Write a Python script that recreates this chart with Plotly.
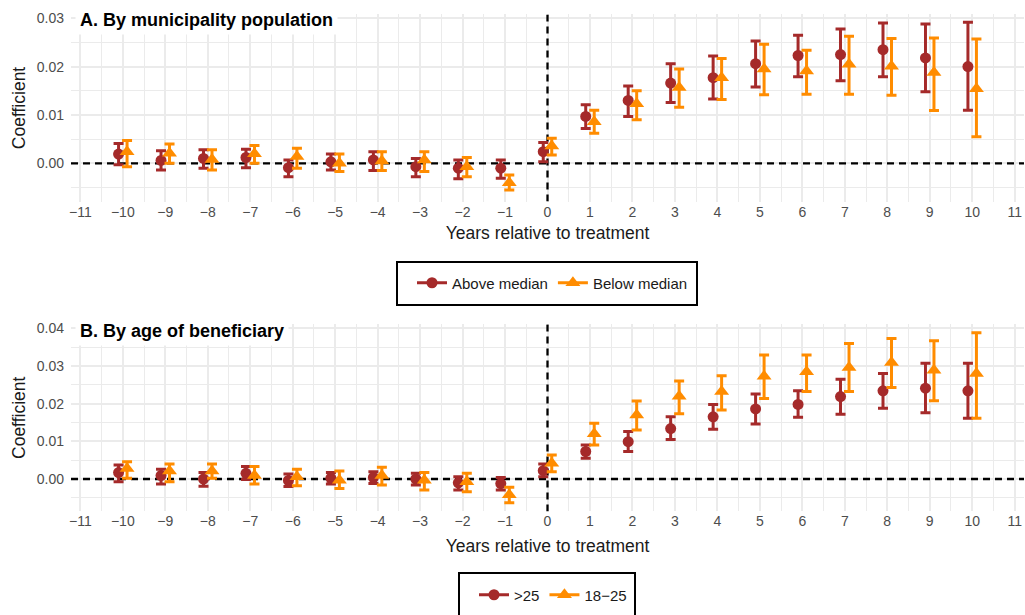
import plotly.graph_objects as go

# ---------------- data ----------------
years = list(range(-10, 11))

# Panel A: by municipality population
a_above_est = [0.0019, 0.0006, 0.0010, 0.0012, -0.0009, 0.0003, 0.0007, -0.0007, -0.0010, -0.0010,
               0.0024, 0.0097, 0.0130, 0.0166, 0.0177, 0.0206, 0.0223, 0.0225, 0.0235, 0.0218, 0.0200]
a_above_lo = [-0.0003, -0.0014, -0.0010, -0.0009, -0.0028, -0.0014, -0.0015, -0.0028, -0.0032, -0.0031,
              0.0003, 0.0072, 0.0097, 0.0126, 0.0133, 0.0158, 0.0179, 0.0171, 0.0179, 0.0148, 0.0110]
a_above_hi = [0.0041, 0.0026, 0.0028, 0.0029, 0.0007, 0.0019, 0.0024, 0.0010, 0.0007, 0.0007,
              0.0043, 0.0121, 0.0160, 0.0206, 0.0222, 0.0253, 0.0265, 0.0278, 0.0290, 0.0288, 0.0292]

a_below_est = [0.0024, 0.0021, 0.0008, 0.0020, 0.0014, 0.0000, 0.0005, 0.0007, -0.0007, -0.0040,
               0.0036, 0.0086, 0.0123, 0.0157, 0.0177, 0.0195, 0.0191, 0.0205, 0.0201, 0.0188, 0.0154]
a_below_lo = [-0.0007, 0.0000, -0.0014, 0.0000, -0.0010, -0.0017, -0.0015, -0.0017, -0.0028, -0.0055,
              0.0017, 0.0062, 0.0090, 0.0116, 0.0132, 0.0142, 0.0143, 0.0143, 0.0141, 0.0109, 0.0055]
a_below_hi = [0.0047, 0.0040, 0.0028, 0.0037, 0.0031, 0.0019, 0.0024, 0.0024, 0.0012, -0.0024,
              0.0052, 0.0110, 0.0150, 0.0195, 0.0217, 0.0246, 0.0234, 0.0263, 0.0258, 0.0259, 0.0257]

# Panel B: by age of beneficiary
b_old_est = [0.0017, 0.0009, 0.0000, 0.0015, -0.0004, 0.0002, 0.0004, 0.0000, -0.0010, -0.0012,
             0.0022, 0.0073, 0.0099, 0.0134, 0.0165, 0.0186, 0.0198, 0.0219, 0.0234, 0.0241, 0.0234]
b_old_lo = [-0.0007, -0.0013, -0.0019, -0.0001, -0.0020, -0.0013, -0.0012, -0.0016, -0.0029, -0.0029,
            0.0006, 0.0055, 0.0073, 0.0105, 0.0132, 0.0146, 0.0164, 0.0172, 0.0188, 0.0176, 0.0161]
b_old_hi = [0.0037, 0.0026, 0.0017, 0.0033, 0.0013, 0.0017, 0.0019, 0.0015, 0.0006, 0.0004,
            0.0040, 0.0090, 0.0126, 0.0165, 0.0198, 0.0226, 0.0234, 0.0265, 0.0280, 0.0307, 0.0307]

b_young_est = [0.0028, 0.0021, 0.0021, 0.0009, 0.0006, -0.0003, 0.0009, -0.0003, -0.0007, -0.0042,
               0.0042, 0.0120, 0.0170, 0.0220, 0.0232, 0.0273, 0.0285, 0.0296, 0.0309, 0.0289, 0.0280]
b_young_lo = [0.0002, -0.0007, 0.0002, -0.0013, -0.0018, -0.0025, -0.0016, -0.0029, -0.0034, -0.0063,
              0.0019, 0.0090, 0.0130, 0.0173, 0.0183, 0.0214, 0.0232, 0.0232, 0.0243, 0.0208, 0.0161]
b_young_hi = [0.0046, 0.0040, 0.0040, 0.0033, 0.0026, 0.0021, 0.0031, 0.0017, 0.0015, -0.0022,
              0.0064, 0.0148, 0.0207, 0.0260, 0.0274, 0.0329, 0.0329, 0.0360, 0.0373, 0.0367, 0.0388]

x_ticks = list(range(-11, 12))
title_a = "A. By municipality population"
title_b = "B. By age of beneficiary"
x_title = "Years relative to treatment"
y_title = "Coefficient"
names_a = ["Above median", "Below median"]
names_b = [">25", "18\u221225"]

# ---------------- style ----------------
RED = "#A52A2A"
ORANGE = "#FF8C00"
DODGE = 0.1
W, H = 1025, 615
FONT = "Liberation Sans, Arial, sans-serif"
GRID = "#EBEBEB"
X_RANGE = [-11.22, 11.22]
Y_RANGE_A = [-0.0079, 0.0308]
Y_RANGE_B = [-0.0086, 0.0411]


def px_y(p):
    return 1 - p / H


def px_x(p):
    return p / W


fig = go.Figure()


def add_series(est, lo, hi, color, symbol, size, xa, ya, offset, name, legend):
    xs = [y + offset for y in years]
    fig.add_trace(go.Scatter(
        x=xs, y=est, mode="markers", xaxis=xa, yaxis=ya, showlegend=False,
        marker=dict(color=color, symbol=symbol, size=size),
        error_y=dict(type="data", symmetric=False,
                     array=[h - e for h, e in zip(hi, est)],
                     arrayminus=[e - l for e, l in zip(est, lo)],
                     color=color, thickness=3, width=5),
        name=name,
    ))
    fig.add_trace(go.Scatter(
        x=[None], y=[None], mode="lines+markers", xaxis=xa, yaxis=ya,
        marker=dict(color=color, symbol=symbol, size=size),
        line=dict(color=color, width=3), name=name, legend=legend,
    ))


add_series(a_above_est, a_above_lo, a_above_hi, RED, "circle", 11, "x", "y", -DODGE, names_a[0], "legend")
add_series(a_below_est, a_below_lo, a_below_hi, ORANGE, "triangle-up", 13, "x", "y", DODGE, names_a[1], "legend")
add_series(b_old_est, b_old_lo, b_old_hi, RED, "circle", 11, "x2", "y2", -DODGE, names_b[0], "legend2")
add_series(b_young_est, b_young_lo, b_young_hi, ORANGE, "triangle-up", 13, "x2", "y2", DODGE, names_b[1], "legend2")

xdom = [px_x(71), px_x(1024)]
xaxis_common = dict(
    range=X_RANGE, tickmode="array", tickvals=x_ticks, showgrid=True,
    gridcolor=GRID, gridwidth=2.2, zeroline=False, showline=False, ticks="",
    tickfont=dict(size=14, color="#4D4D4D", family=FONT),
    minor=dict(dtick=0.5, tick0=-11, showgrid=True, gridcolor=GRID, gridwidth=1.1),
    domain=xdom,
)
yaxis_common = dict(
    dtick=0.01, tick0=0, tickformat=".2f", showgrid=True, gridcolor=GRID, gridwidth=2.2,
    zeroline=False, showline=False, ticks="",
    tickfont=dict(size=14, color="#4D4D4D", family=FONT),
    minor=dict(dtick=0.005, tick0=0, showgrid=True, gridcolor=GRID, gridwidth=1.1),
    title=dict(text=y_title, font=dict(size=17.5, color="#1A1A1A", family=FONT), standoff=6),
    ticklabelstandoff=6,
)
xtitle_font = dict(size=17.5, color="#1A1A1A", family=FONT)

fig.update_layout(
    width=W, height=H, margin=dict(l=0, r=0, t=0, b=0, autoexpand=False),
    paper_bgcolor="white", plot_bgcolor="white",
    font=dict(family=FONT),
    xaxis=dict(**xaxis_common, anchor="y", title=dict(text=x_title, font=xtitle_font, standoff=8)),
    yaxis=dict(**yaxis_common, range=Y_RANGE_A, domain=[px_y(201.5), px_y(14.4)], anchor="x"),
    xaxis2=dict(**xaxis_common, anchor="y2", title=dict(text=x_title, font=xtitle_font, standoff=11)),
    yaxis2=dict(**yaxis_common, range=Y_RANGE_B, domain=[px_y(511.4), px_y(324.2)], anchor="x2"),
    legend=dict(orientation="h", x=px_x(412), xanchor="left", y=px_y(283), yanchor="middle",
                bgcolor="rgba(0,0,0,0)", borderwidth=0, font=dict(size=15, color="#1A1A1A", family=FONT),
                itemwidth=30),
    legend2=dict(orientation="h", x=px_x(474), xanchor="left", y=px_y(595), yanchor="middle",
                 bgcolor="rgba(0,0,0,0)", borderwidth=0, font=dict(size=15, color="#1A1A1A", family=FONT),
                 itemwidth=30),
)

shapes = []
for xa, ya, yr in (("x", "y", Y_RANGE_A), ("x2", "y2", Y_RANGE_B)):
    shapes.append(dict(type="line", xref=xa, x0=X_RANGE[0], x1=X_RANGE[1], yref=ya, y0=0, y1=0,
                       line=dict(color="black", width=2.3, dash="7px,5px"), layer="between"))
    shapes.append(dict(type="line", xref=xa, x0=0, x1=0, yref=ya, y0=yr[0], y1=yr[1],
                       line=dict(color="black", width=2.3, dash="7px,5px"), layer="between"))
# legend boxes
shapes.append(dict(type="rect", xref="paper", yref="paper", x0=px_x(397), x1=px_x(697),
                   y0=px_y(305), y1=px_y(262), line=dict(color="black", width=2), fillcolor="rgba(0,0,0,0)"))
shapes.append(dict(type="rect", xref="paper", yref="paper", x0=px_x(459), x1=px_x(635),
                   y0=px_y(617), y1=px_y(573), line=dict(color="black", width=2), fillcolor="rgba(0,0,0,0)"))
fig.update_layout(shapes=shapes)

fig.add_annotation(text=f"<b>{title_a}</b>", xref="paper", yref="paper", x=px_x(75), y=px_y(20),
                   xanchor="left", yanchor="middle", showarrow=False, bgcolor="white", borderpad=4,
                   font=dict(size=18, color="black", family=FONT))
fig.add_annotation(text=f"<b>{title_b}</b>", xref="paper", yref="paper", x=px_x(75), y=px_y(331),
                   xanchor="left", yanchor="middle", showarrow=False, bgcolor="white", borderpad=4,
                   font=dict(size=18, color="black", family=FONT))

fig.write_html(
    "out.html",
    config={"displayModeBar": False},
    post_script="document.body.style.margin='0';document.body.style.padding='0';document.body.style.overflow='hidden';",
)
